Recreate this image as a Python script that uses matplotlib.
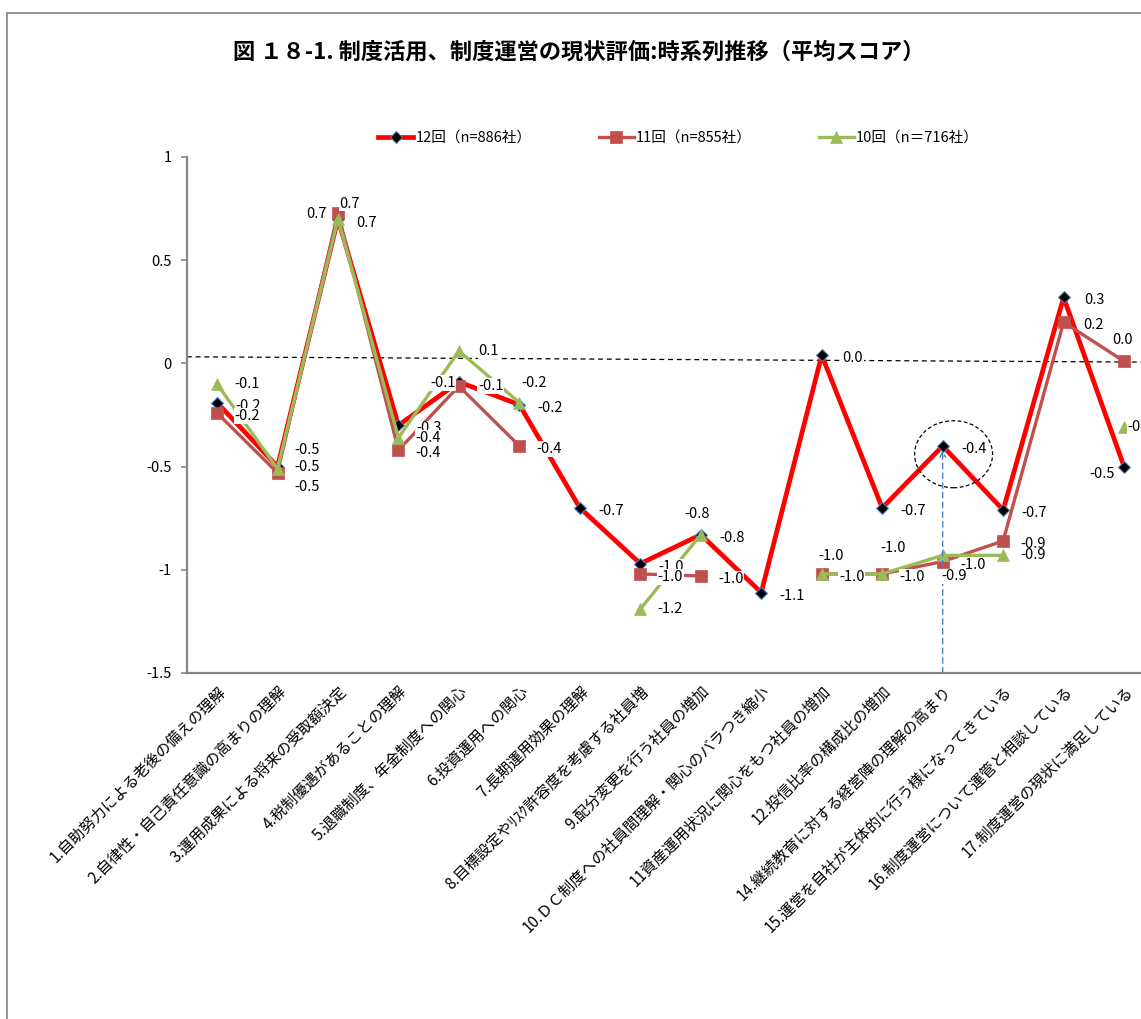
import matplotlib
matplotlib.use("Agg")
import matplotlib.pyplot as plt
from matplotlib.lines import Line2D
from matplotlib.patches import Ellipse
import numpy as np

plt.rcParams['font.family'] = ['Noto Sans CJK JP', 'DejaVu Sans']

# ---- data -------------------------------------------------------------
categories = [
    "1.自助努力による老後の備えの理解",
    "2.自律性・自己責任意識の高まりの理解",
    "3.運用成果による将来の受取額決定",
    "4.税制優遇があることの理解",
    "5.退職制度、年金制度への関心",
    "6.投資運用への関心",
    "7.長期運用効果の理解",
    "8.目標設定やﾘｽｸ許容度を考慮する社員増",
    "9.配分変更を行う社員の増加",
    "10.ＤＣ制度への社員間理解・関心のバラつき縮小",
    "11資産運用状況に関心をもつ社員の増加",
    "12.投信比率の構成比の増加",
    "14.継続教育に対する経営陣の理解の高まり",
    "15.運営を自社が主体的に行う様になってきている",
    "16.制度運営について運管と相談している",
    "17.制度運営の現状に満足している",
]

nan = np.nan
score_12 = [-0.19, -0.50, 0.70, -0.30, -0.09, -0.20, -0.70, -0.97, -0.83, -1.11,
            0.04, -0.70, -0.40, -0.71, 0.32, -0.50]
score_11 = [-0.24, -0.53, 0.73, -0.42, -0.11, -0.40, nan, -1.02, -1.03, nan,
            -1.02, -1.02, -0.96, -0.86, 0.20, 0.01]
score_10 = [-0.10, -0.51, 0.70, -0.36, 0.06, -0.19, nan, -1.19, -0.83, nan,
            -1.02, -1.02, -0.93, -0.93, nan, -0.31]

series_names = ["12回（n=886社）", "11回（n=855社）", "10回（n＝716社）"]

title = "図 １８-1. 制度活用、制度運営の現状評価:時系列推移（平均スコア）"

y_ticks = [-1.5, -1, -0.5, 0, 0.5, 1]
y_tick_labels = ["-1.5", "-1", "-0.5", "0", "0.5", "1"]

# ---- label placement (pixel offsets of label centre from the marker) ---
default_off = [(31, -3), (30, -3), (30, 0)]
label_off = [
    {1: (30, 0), 2: (29, -4), 4: (-16, -1), 15: (-22, -7)},
    {1: (30, -14), 2: (12, 9), 4: (32, 0), 15: (-2, 21)},
    {1: (30, 19), 2: (-21, 5), 5: (15, 20), 8: (-4, 21), 10: (9, 18),
     11: (11, 26), 12: (11, -21), 15: (16, 0)},
]

# ---- figure -----------------------------------------------------------
W, H = 1141, 1019
fig = plt.figure(figsize=(W / 100, H / 100), dpi=100)

left_px, right_px = 186.8, 186.8 + 16 * 60.47
top_px, bot_px = 157, 673
ax = fig.add_axes([left_px / W, 1 - bot_px / H, (right_px - left_px) / W,
                   (bot_px - top_px) / H])

x = np.arange(1, len(categories) + 1)

styles = [
    dict(color="#FF0000", lw=3.4, marker="D", ms=6.5, mfc="black",
         mec="#4F81BD", mew=0.8, zorder=3),
    dict(color="#C0504D", lw=2.4, marker="s", ms=8.5, mfc="#C0504D",
         mec="#C0504D", mew=0.5, zorder=4),
    dict(color="#9BBB59", lw=2.4, marker="^", ms=9, mfc="#9BBB59",
         mec="#9BBB59", mew=0.5, zorder=5),
]

all_series = [score_12, score_11, score_10]
handles = []
for vals, st, name in zip(all_series, styles, series_names):
    h, = ax.plot(x, vals, label=name, **st)
    handles.append(h)

# data labels
for s, vals in enumerate(all_series):
    for i, v in enumerate(vals):
        if np.isnan(v):
            continue
        dx, dy = label_off[s].get(i, default_off[s])
        ax.annotate(f"{v:.1f}", (x[i], v), xytext=(dx, dy),
                    textcoords="offset pixels", ha="center", va="center",
                    fontsize=10.5, color="black", zorder=10,
                    bbox=dict(boxstyle="square,pad=0.05", fc="white",
                              ec="none"),
                    annotation_clip=False)

# reference line near zero
ax.plot([0.5, 16.5], [0.032, 0.006], color="black", lw=0.9,
        ls=(0, (4, 3)), zorder=2)

# highlight of item 14
hx, hy = x[12], score_12[12]
ax.add_patch(Ellipse((hx + 0.18, hy - 0.04), 1.29, 0.325, fill=False,
                     ec="black", lw=0.9, ls=(0, (3, 2)), zorder=6))
ax.annotate("", xy=(hx, hy - 0.02), xytext=(hx, -1.5),
            arrowprops=dict(arrowstyle="->", color="#4F81BD", lw=1,
                            ls=(0, (4, 3)), shrinkA=0, shrinkB=0),
            zorder=6)

# axes styling
ax.set_xlim(0.5, 16.5)
ax.set_ylim(-1.5, 1)
ax.set_yticks(y_ticks)
ax.set_yticklabels(y_tick_labels, fontsize=10.5)
ax.tick_params(axis="y", direction="out", length=4, width=1.2,
               color="#868686", pad=7)
ax.set_xticks(x)
ax.set_xticklabels(categories, rotation=45, ha="right",
                   rotation_mode="anchor", fontsize=11)
ax.tick_params(axis="x", length=0, pad=7)
for side in ("top", "right"):
    ax.spines[side].set_visible(False)
for side in ("left", "bottom"):
    ax.spines[side].set_color("#868686")
    ax.spines[side].set_linewidth(1.6)

fig.legend(handles=handles, loc="center", bbox_to_anchor=(0.5947, 0.8646),
           ncol=3, frameon=False, fontsize=10.5, handlelength=2.4,
           handletextpad=0.15, columnspacing=4.6)

fig.text(0.507, 0.949, title, ha="center", va="center", fontsize=16,
         fontweight="bold")

# chart frame
bx, by = 7 / W, 1 - 13 / H
fig.add_artist(Line2D([bx, bx], [0, by], color="#8c8c8c", lw=1.3))
fig.add_artist(Line2D([bx, 1], [by, by], color="#8c8c8c", lw=1.3))

fig.savefig("out.png", dpi=100)
